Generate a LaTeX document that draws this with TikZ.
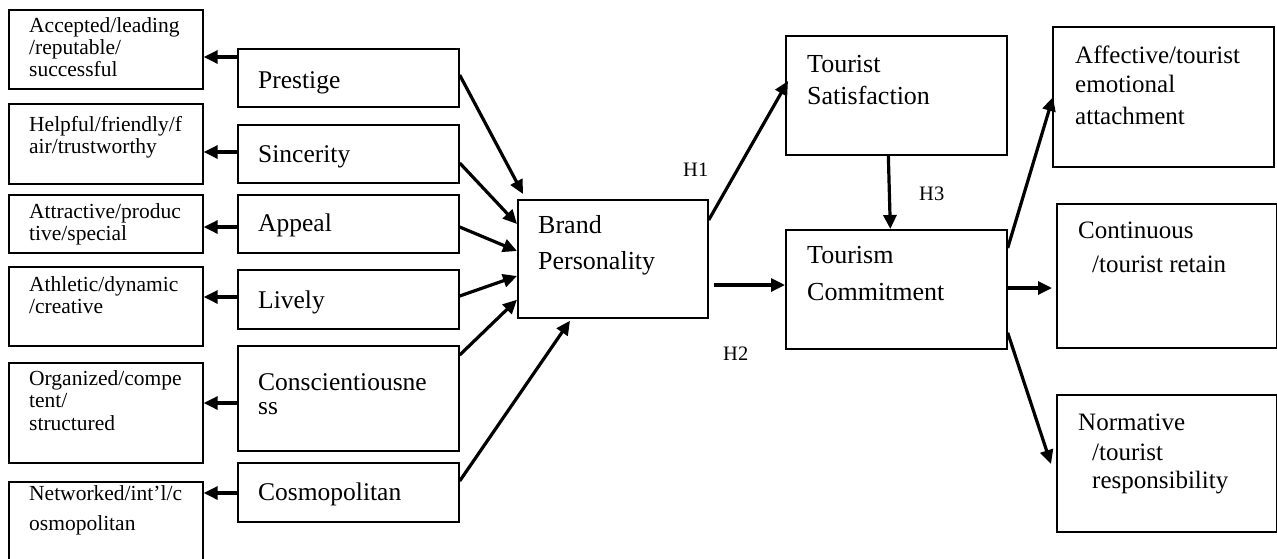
\documentclass[tikz,border=0pt]{standalone}
\usepackage{fontspec}
\setmainfont{Liberation Serif}
\usetikzlibrary{arrows.meta}
\begin{document}
\begin{tikzpicture}[x=1pt,y=-1pt,
  box/.style={draw, line width=1.7pt, inner sep=0pt, anchor=north west},
  arr/.style={line width=3.2pt, -{Triangle[length=14pt,width=13pt]}},
  txt/.style={anchor=base west, inner sep=0pt},
  fl/.style={txt, font=\fontsize{21.5}{24}\selectfont},
  fm/.style={txt, font=\fontsize{25.5}{30}\selectfont},
  fc/.style={txt, font=\fontsize{26}{30}\selectfont},
  fr/.style={txt, font=\fontsize{25}{29}\selectfont},
  fh/.style={txt, font=\fontsize{20.5}{24}\selectfont}]
\useasboundingbox (0,0) rectangle (1277,558);

% left boxes
\node[box, minimum width=194pt, minimum height=79pt] (L1) at (8,9) {};
\node[box, minimum width=194pt, minimum height=80pt] (L2) at (8,103) {};
\node[box, minimum width=194pt, minimum height=58pt] (L3) at (8,194) {};
\node[box, minimum width=194pt, minimum height=79pt] (L4) at (8,266) {};
\node[box, minimum width=194pt, minimum height=100pt] (L5) at (8,362) {};
\node[box, minimum width=194pt, minimum height=92pt] (L6) at (8,481) {};

% middle boxes
\node[box, minimum width=221pt, minimum height=58pt] (M1) at (237,48) {};
\node[box, minimum width=221pt, minimum height=58pt] (M2) at (237,124) {};
\node[box, minimum width=221pt, minimum height=58pt] (M3) at (237,194) {};
\node[box, minimum width=221pt, minimum height=59pt] (M4) at (237,269) {};
\node[box, minimum width=221pt, minimum height=105pt] (M5) at (237,345) {};
\node[box, minimum width=221pt, minimum height=59pt] (M6) at (237,462) {};

% centre and right boxes
\node[box, minimum width=190pt, minimum height=118pt] (BP) at (517,199) {};
\node[box, minimum width=221pt, minimum height=119pt] (TS) at (785,35) {};
\node[box, minimum width=221pt, minimum height=119pt] (TC) at (785,229) {};
\node[box, minimum width=221pt, minimum height=140pt] (AF) at (1052,26) {};
\node[box, minimum width=220pt, minimum height=144pt] (CO) at (1056,203) {};
\node[box, minimum width=220pt, minimum height=137pt] (NO) at (1056,394) {};

% left texts
\node[fl] (l1a) at (29,32) {Accepted/leading};
\node[fl] (l1b) at (29,54) {/reputable/};
\node[fl] (l1c) at (29,76) {successful};
\node[fl] (l2a) at (29,131) {Helpful/friendly/f};
\node[fl] (l2b) at (29,153) {air/trustworthy};
\node[fl] (l3a) at (29,218) {Attractive/produc};
\node[fl] (l3b) at (29,240) {tive/special};
\node[fl] (l4a) at (29,291) {Athletic/dynamic};
\node[fl] (l4b) at (29,313) {/creative};
\node[fl] (l5a) at (29,385) {Organized/compe};
\node[fl] (l5b) at (29,407) {tent/};
\node[fl] (l5c) at (29,430) {structured};
\node[fl] (l6a) at (29,500) {Networked/int’l/c};
\node[fl] (l6b) at (29,530) {osmopolitan};

% middle texts
\node[fm] (m1) at (258,88) {Prestige};
\node[fm] (m2) at (258,162) {Sincerity};
\node[fm] (m3) at (258,231) {Appeal};
\node[fm] (m4) at (258,308) {Lively};
\node[fm] (m5a) at (258,390) {Conscientiousne};
\node[fm] (m5b) at (258,414) {ss};
\node[fm] (m6) at (258,500) {Cosmopolitan};

% centre / right texts
\node[fc] (bpa) at (538,233) {Brand};
\node[fc] (bpb) at (538,269) {Personality};
\node[fc] (tsa) at (807,72) {Tourist};
\node[fc] (tsb) at (807,104) {Satisfaction};
\node[fc] (tca) at (807,263) {Tourism};
\node[fc] (tcb) at (807,300) {Commitment};
\node[fr] (afa) at (1075,63) {Affective/tourist};
\node[fr] (afb) at (1075,92) {emotional};
\node[fr] (afc) at (1075,124) {attachment};
\node[fr] (coa) at (1078,238) {Continuous};
\node[fr] (cob) at (1092,272) {/tourist retain};
\node[fr] (noa) at (1078,430) {Normative};
\node[fr] (nob) at (1092,460) {/tourist};
\node[fr] (noc) at (1092,488) {responsibility};

% hypothesis labels
\node[fh] (h1) at (683,176) {H1};
\node[fh] (h2) at (723,360) {H2};
\node[fh] (h3) at (919,200) {H3};

% arrows to left boxes
\draw[arr] (M1.west |- 0,57) -- (L1.east |- 0,57);
\draw[arr] (M2.west |- 0,152) -- (L2.east |- 0,152);
\draw[arr] (M3.west |- 0,227) -- (L3.east |- 0,227);
\draw[arr] (M4.west |- 0,297) -- (L4.east |- 0,297);
\draw[arr] (M5.west |- 0,403) -- (L5.east |- 0,403);
\draw[arr] (M6.west |- 0,493) -- (L6.east |- 0,493);

% arrows into brand personality
\draw[arr] (M1.east |- 0,75) -- ([xshift=6pt,yshift=5pt]BP.north west);
\draw[arr] (M2.east |- 0,163) -- ([yshift=-25pt]BP.north west);
\draw[arr] (M3.east |- 0,227) -- ([yshift=-52pt]BP.north west);
\draw[arr] (M4.east |- 0,296) -- ([yshift=-77pt]BP.north west);
\draw[arr] (M5.east |- 0,355) -- ([yshift=19pt]BP.south west);
\draw[arr] (M6.east |- 0,481) -- ([xshift=53pt,yshift=-2pt]BP.south west);

% hypotheses
\draw[arr] ([yshift=-21pt]BP.north east) -- ([xshift=3pt,yshift=-46pt]TS.north west);
\draw[arr] ([xshift=5pt]BP.east |- 0,285) -- (TC.west |- 0,285);
\draw[arr] ([xshift=-8pt]TS.south) -- ([xshift=-6pt]TC.north);

% commitment outcomes
\draw[arr] ([yshift=-19pt]TC.north east) -- ([xshift=1pt,yshift=-71pt]AF.north west);
\draw[arr] (TC.east |- 0,288) -- ([xshift=-4pt]CO.west |- 0,288);
\draw[arr] ([yshift=17pt]TC.south east) -- ([xshift=-5pt]NO.west |- 0,464);
\end{tikzpicture}
\end{document}
